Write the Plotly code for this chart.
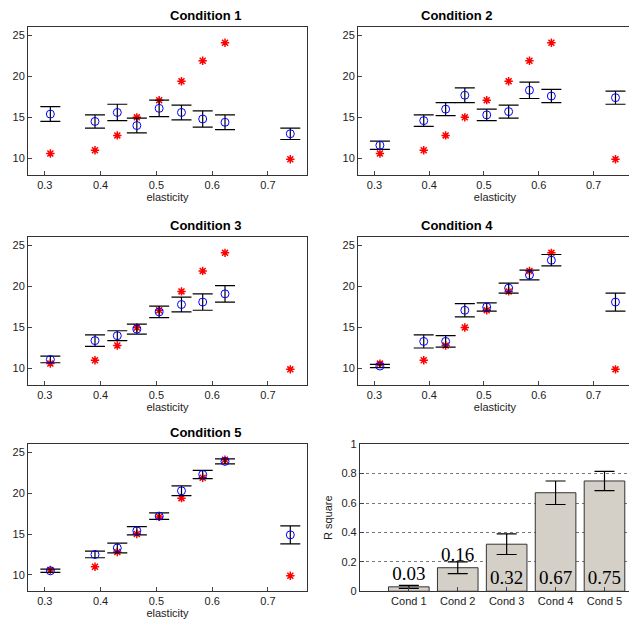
import plotly.graph_objects as go

elasticity = [0.31, 0.39, 0.43, 0.465, 0.505, 0.545, 0.583, 0.623, 0.74]
target = [10.6, 11.0, 12.8, 15.0, 17.1, 19.4, 21.9, 24.1, 9.9]
means = {
    "Condition 1": [15.4, 14.5, 15.6, 14.0, 16.1, 15.6, 14.8, 14.4, 13.0],
    "Condition 2": [11.6, 14.6, 16.0, 17.7, 15.3, 15.7, 18.3, 17.6, 17.4],
    "Condition 3": [11.1, 13.4, 14.0, 14.8, 16.9, 17.8, 18.1, 19.1, None],
    "Condition 4": [10.3, 13.3, 13.3, 17.1, 17.5, 19.8, 21.4, 23.2, 18.1],
    "Condition 5": [10.5, 12.5, 13.3, 15.4, 17.2, 20.3, 22.3, 23.9, 14.9],
}
errs = {
    "Condition 1": [0.9, 0.8, 1.0, 0.9, 1.0, 0.9, 1.0, 0.9, 0.7],
    "Condition 2": [0.5, 0.7, 0.8, 0.9, 0.7, 0.8, 1.0, 0.8, 0.8],
    "Condition 3": [0.4, 0.7, 0.6, 0.6, 0.7, 0.9, 1.0, 1.0, 0],
    "Condition 4": [0.2, 0.8, 0.7, 0.8, 0.5, 0.6, 0.6, 0.7, 1.1],
    "Condition 5": [0.2, 0.4, 0.6, 0.5, 0.4, 0.6, 0.5, 0.3, 1.1],
}
bar_labels = ["Cond 1", "Cond 2", "Cond 3", "Cond 4", "Cond 5"]
r2 = [0.03, 0.16, 0.32, 0.67, 0.75]
r2_err = [0.01, 0.04, 0.07, 0.08, 0.065]

dx, dy = 8 / 637, 8 / 631
xdoms = [[0.044 - dx, 0.482 - dx], [0.562 - dx, 0.992 - dx]]
ydoms = [[0.723 + dy, 0.957 + dy], [0.390 + dy, 0.624 + dy], [0.063 + dy, 0.296 + dy]]
font = dict(family="Liberation Sans, Arial", size=11, color="#222")

fig = go.Figure()
names = list(means.keys())
for i, name in enumerate(names):
    r, c = divmod(i, 2)
    ax = "" if i == 0 else str(i + 1)
    fig.add_trace(go.Scatter(x=elasticity, y=target, mode="markers",
        marker=dict(symbol="asterisk-open", color="red", size=7, line=dict(color="red", width=1.5)),
        xaxis="x" + ax, yaxis="y" + ax, showlegend=False))
    fig.add_trace(go.Scatter(x=elasticity, y=means[name], mode="markers",
        marker=dict(symbol="circle-open", color="blue", size=8, line=dict(color="blue", width=1)),
        error_y=dict(type="data", array=errs[name], color="black", thickness=1.2, width=10),
        xaxis="x" + ax, yaxis="y" + ax, showlegend=False))
    fig.update_layout(**{
        "xaxis" + ax: dict(domain=xdoms[c], anchor="y" + ax, range=[0.27, 0.77],
            tickvals=[0.3, 0.4, 0.5, 0.6, 0.7], ticks="inside", ticklen=4,
            showline=True, mirror=True, linecolor="#333", showgrid=False, zeroline=False,
            title=dict(text="elasticity", standoff=2, font=font), tickfont=font),
        "yaxis" + ax: dict(domain=ydoms[r], anchor="x" + ax, range=[8, 26],
            tickvals=[10, 15, 20, 25], ticks="inside", ticklen=4,
            showline=True, mirror=True, linecolor="#333", showgrid=False, zeroline=False, tickfont=font),
    })
    fig.add_annotation(text="<b>" + name + "</b>", xref="paper", yref="paper",
        x=sum(xdoms[c]) / 2, y=ydoms[r][1], yanchor="bottom", showarrow=False, yshift=2,
        font=dict(family="Liberation Sans, Arial", size=13, color="black"))

fig.add_trace(go.Bar(x=[1, 2, 3, 4, 5], y=r2, width=0.83,
    marker=dict(color="#d4d0c8", line=dict(color="#333", width=1)),
    error_y=dict(type="data", array=r2_err, color="black", thickness=1.2, width=10),
    text=[f"{v:.2f}" for v in r2], textposition=["outside", "outside", "inside", "inside", "inside"],
    insidetextanchor="start", textangle=0, cliponaxis=False,
    textfont=dict(family="Liberation Serif, Times New Roman", size=19, color="black"),
    xaxis="x6", yaxis="y6", showlegend=False))
fig.update_layout(
    xaxis6=dict(domain=[0.565 - dx, 1.0], anchor="y6", range=[0, 6 - 8 / 46.5], tickvals=[1, 2, 3, 4, 5],
        ticktext=bar_labels, ticks="inside", ticklen=4, showline=True, linecolor="#333",
        showgrid=False, zeroline=False, tickfont=font, mirror=True),
    yaxis6=dict(domain=ydoms[2], anchor="x6", range=[0, 1], tickvals=[0, 0.2, 0.4, 0.6, 0.8, 1],
        ticktext=["0", "0.2", "0.4", "0.6", "0.8", "1"], ticks="inside", ticklen=4, showline=True,
        linecolor="#333", showgrid=True, gridcolor="#777", griddash="dot", zeroline=False,
        tickfont=font, title=dict(text="R square", font=font, standoff=6), mirror=True),
    width=637, height=631, margin=dict(l=0, r=0, t=0, b=0, autoexpand=False),
    paper_bgcolor="white", plot_bgcolor="white", font=font,
)
fig.write_html("out.html")
